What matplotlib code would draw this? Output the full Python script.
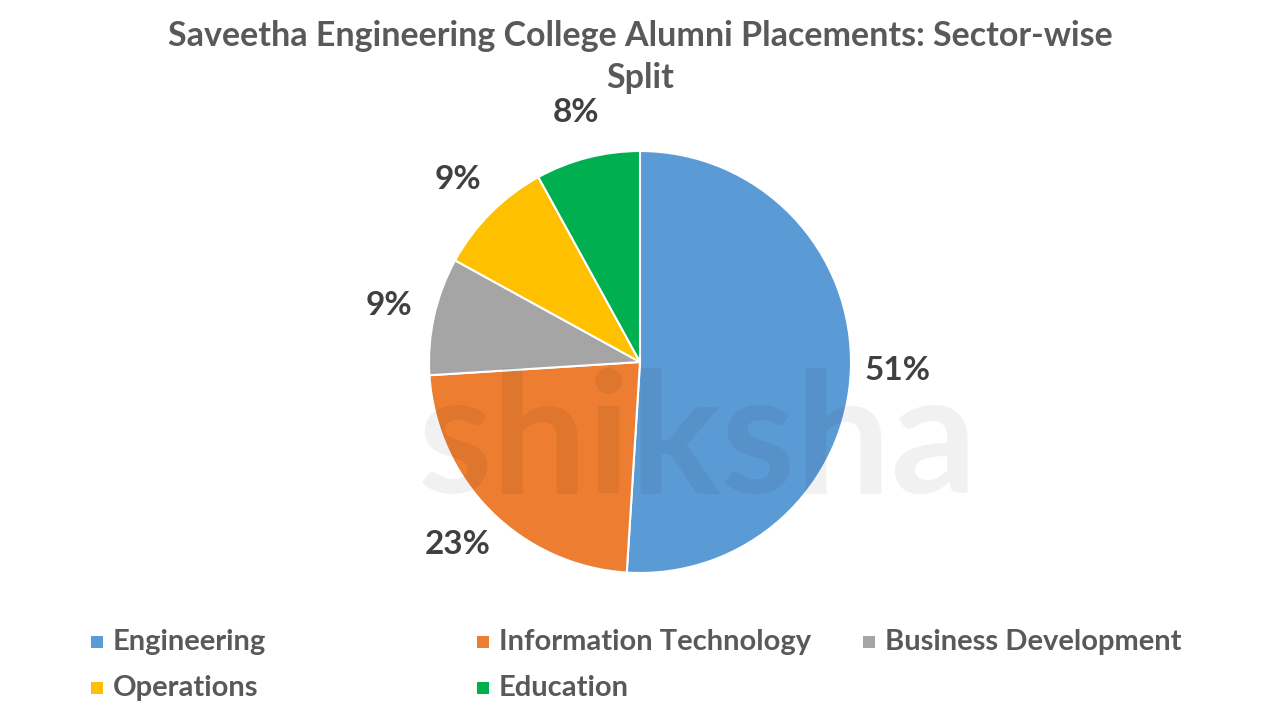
import matplotlib.pyplot as plt
from matplotlib.patches import Rectangle

sectors = ['Engineering', 'Information Technology', 'Business Development', 'Operations', 'Education']
shares = [51, 23, 9, 9, 8]
colors = ['#5B9BD5', '#ED7D31', '#A5A5A5', '#FFC000', '#00B050']
title = 'Saveetha Engineering College Alumni Placements: Sector-wise\nSplit'

plt.rcParams['font.family'] = ['Lato', 'DejaVu Sans']
plt.rcParams['font.weight'] = 'bold'

fig = plt.figure(figsize=(12.8, 7.2), dpi=100)
ax = fig.add_axes([0, 0, 1, 1])

wedges, texts, autotexts = ax.pie(shares, colors=colors, startangle=90, counterclock=False,
                                  center=(640, 358), radius=211,
                                  autopct='%1.0f%%', pctdistance=1.22,
                                  wedgeprops=dict(edgecolor='white', linewidth=1.5),
                                  textprops=dict(color='#404040', fontsize=24, fontweight='bold'))
# pie resets the limits, so set them afterwards
ax.set_xlim(0, 1280)
ax.set_ylim(0, 720)
ax.set_aspect('equal')
ax.axis('off')

# faint watermark
ax.text(698, 276, 'shiksha', fontsize=122, fontweight='bold', color='black', alpha=0.055,
        ha='center', va='center', zorder=5)

ax.text(640, 663, title, ha='center', va='center', fontsize=24.5, fontweight='bold',
        color='#595959', linespacing=1.42)

# legend, row by row
for i, (name, c) in enumerate(zip(sectors, colors)):
    col = i % 3
    row = i // 3
    x = 91 + col * 386
    y = 720 - 642 - row * 46
    ax.add_patch(Rectangle((x, y - 6), 12, 12, facecolor=c, edgecolor='none'))
    ax.text(x + 22, y, name, ha='left', va='center', fontsize=21, fontweight='bold', color='#595959')

fig.savefig('out.png', dpi=100)
